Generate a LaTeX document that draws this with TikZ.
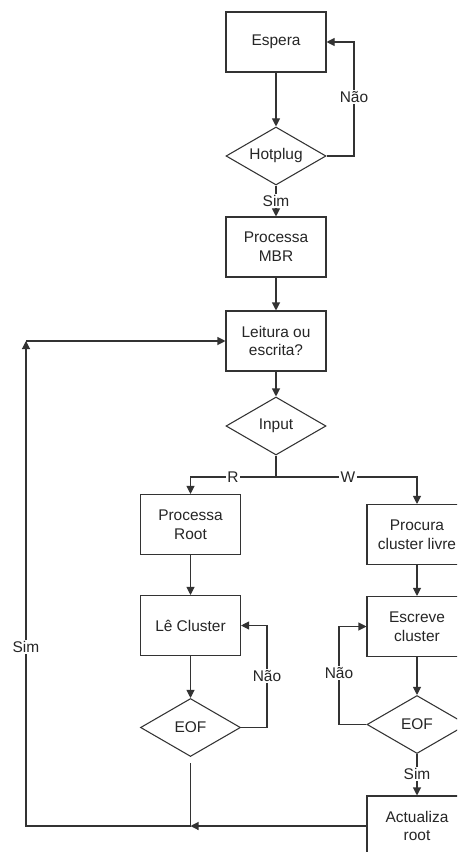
\documentclass[tikz,border=0pt]{standalone}
\usepackage{fontspec}
\setmainfont{Liberation Sans}
\usetikzlibrary{shapes.geometric,arrows.meta}

\tikzset{
  line/.style={draw=black!80, line width=0.8pt},
  flow/.style={line, -{Triangle[length=6pt,width=6pt]}},
  stepbox/.style={draw=black!80, line width=0.8pt, fill=white, rectangle,
    minimum width=75pt, minimum height=45pt, inner sep=0pt, align=center,
    text=black!85, font=\fontsize{11.6}{14}\selectfont},
  test/.style={draw=black!80, line width=0.8pt, fill=white, diamond, aspect=1.72,
    minimum width=75pt, minimum height=43.5pt, inner sep=0pt,
    text=black!85, font=\fontsize{11.6}{14}\selectfont},
  lbl/.style={fill=white, inner sep=1pt, text=black!85,
    font=\fontsize{11.6}{14}\selectfont}
}

\begin{document}
\begin{tikzpicture}[x=0.75pt, y=-0.75pt]
  \useasboundingbox (0,0) rectangle (457,852);
  \clip (0,0) rectangle (457,852);

  % main column
  \node[stepbox] (espera) at (276,42)  {Espera};
  \node[test]    (hot)    at (276,156) {Hotplug};
  \node[stepbox] (mbr)    at (276,247) {Processa\\MBR};
  \node[stepbox] (rw)     at (276,341) {Leitura ou\\escrita?};
  \node[test]    (inp)    at (276,426) {Input};

  % read branch
  \node[stepbox] (proot)  at (190.5,524.5) {Processa\\Root};
  \node[stepbox] (le)     at (190.5,625.5) {Lê Cluster};
  \node[test]    (eofr)   at (190.5,727.5) {EOF};

  % write branch
  \node[stepbox] (procura) at (417,534.5) {Procura\\cluster livre};
  \node[stepbox] (escreve) at (417,626.5) {Escreve\\cluster};
  \node[test]    (eofw)    at (417,724.5) {EOF};
  \node[stepbox] (act)     at (417,826)   {Actualiza\\root};

  % bend points
  \coordinate (hl)   at (354,42);
  \coordinate (split) at (276,477);
  \coordinate (lel)  at (267,625.5);
  \coordinate (escl) at (339,626.5);
  \coordinate (join) at (190.5,826);
  \coordinate (back) at (26,341);

  % waiting loop
  \draw[flow] (espera) -- (hot);
  \draw[flow] (hot.east) -| (hl) -- (espera.east);
  \node[lbl] (nao1) at (354,97) {Não};
  \draw[flow] (hot) -- (mbr);
  \node[lbl] (sim1) at (276,201) {Sim};
  \draw[flow] (mbr) -- (rw);
  \draw[flow] (rw) -- (inp);

  % input split
  \draw[line] (inp.south) -- (split);
  \draw[flow] (split) -| (proot.north);
  \draw[flow] (split) -| (procura.north);
  \node[lbl] (r) at (233,477) {R};
  \node[lbl] (w) at (348,477) {W};

  % read loop
  \draw[flow] (proot) -- (le);
  \draw[flow] (le) -- (eofr);
  \draw[flow] (eofr.east) -| (lel) -- (le.east);
  \node[lbl] (nao2) at (267,676) {Não};

  % write loop
  \draw[flow] (procura) -- (escreve);
  \draw[flow] (escreve) -- (eofw);
  \draw[flow] (eofw.west) -| (escl) -- (escreve.west);
  \node[lbl] (nao3) at (339,673) {Não};
  \draw[flow] (eofw) -- (act);
  \node[lbl] (sim2) at (417,774) {Sim};

  % return to the read/write choice
  \draw[line, shorten <=4.5pt] (eofr.south) -- (join);
  \draw[flow] (act.west) -- (join);
  \draw[flow] (join) -| (back);
  \draw[flow] (back) -- (rw.west);
  \node[lbl] (sim3) at (26,647) {Sim};
\end{tikzpicture}
\end{document}
